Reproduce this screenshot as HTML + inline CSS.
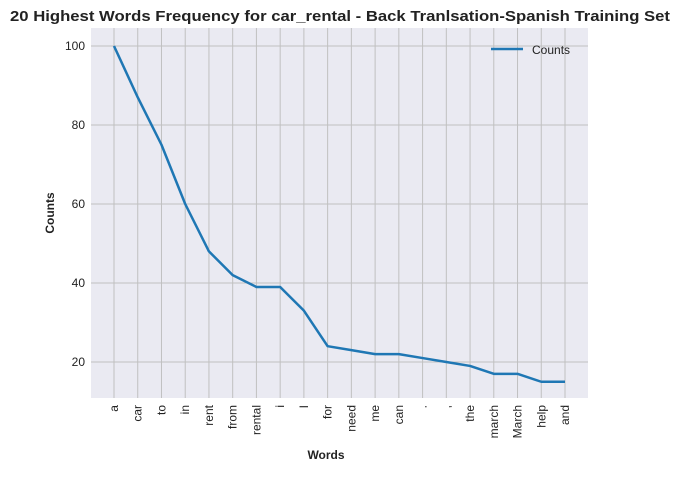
<!DOCTYPE html>
<html><head><meta charset="utf-8"><style>
body{margin:0;background:#fff;font-family:"Liberation Sans",sans-serif}
</style></head><body>
<svg id="c" width="679" height="472" xmlns="http://www.w3.org/2000/svg" font-family="Liberation Sans, sans-serif">
<text x="340" y="21" text-anchor="middle" font-size="15" font-weight="bold" fill="#222" textLength="660" lengthAdjust="spacingAndGlyphs">20 Highest Words Frequency for car_rental - Back Tranlsation-Spanish Training Set</text>
<rect x="91" y="28" width="497" height="370" fill="#eaeaf2"/>
<g id="grid"></g>
<g id="series"></g>
<text x="326" y="459" text-anchor="middle" font-size="12" font-weight="bold" fill="#222">Words</text>
<text transform="translate(54,213) rotate(-90)" text-anchor="middle" font-size="12" font-weight="bold" fill="#222">Counts</text>
<g>
<line x1="491" y1="49" x2="523" y2="49" stroke="#1f77b4" stroke-width="2.5"/>
<text x="532" y="54" font-size="12" fill="#222">Counts</text>
</g>
</svg>
<script>
const words=["a","car","to","in","rent","from","rental","i","I","for","need","me","can",".",",","the","march","March","help","and"];
const counts=[100,87,75,60,48,42,39,39,33,24,23,22,22,21,20,19,17,17,15,15];
const yTicks=[20,40,60,80,100];
const NS="http://www.w3.org/2000/svg";
const xs=i=>114+i*(565-114)/19;
const ys=v=>362-(v-20)*(362-46)/80;
const grid=document.getElementById('grid'),ser=document.getElementById('series');
function mk(t,a,p){const e=document.createElementNS(NS,t);for(const k in a)e.setAttribute(k,a[k]);p.appendChild(e);return e;}
yTicks.forEach(v=>{
 const l=mk('line',{x1:91,x2:588,y1:ys(v),y2:ys(v),stroke:'#c0c0c0','stroke-width':1},grid);
 
 
 const t=mk('text',{x:85,y:ys(v)+4,'text-anchor':'end','font-size':12,fill:'#222'},grid);
 t.textContent=v;
 
 
});
words.forEach((w,i)=>{
 const l=mk('line',{x1:xs(i),x2:xs(i),y1:28,y2:398,stroke:'#c0c0c0','stroke-width':1},grid);
 
 
 const t=mk('text',{transform:`translate(${xs(i)+4},405) rotate(-90)`,'text-anchor':'end','font-size':12,fill:'#222'},grid);
 t.textContent=w;
 
 
});
const p=mk('polyline',{points:counts.map((v,i)=>xs(i)+','+ys(v)).join(' '),fill:'none',stroke:'#1f77b4','stroke-width':2.5,'stroke-linejoin':'round'},ser);


</script>
</body></html>
